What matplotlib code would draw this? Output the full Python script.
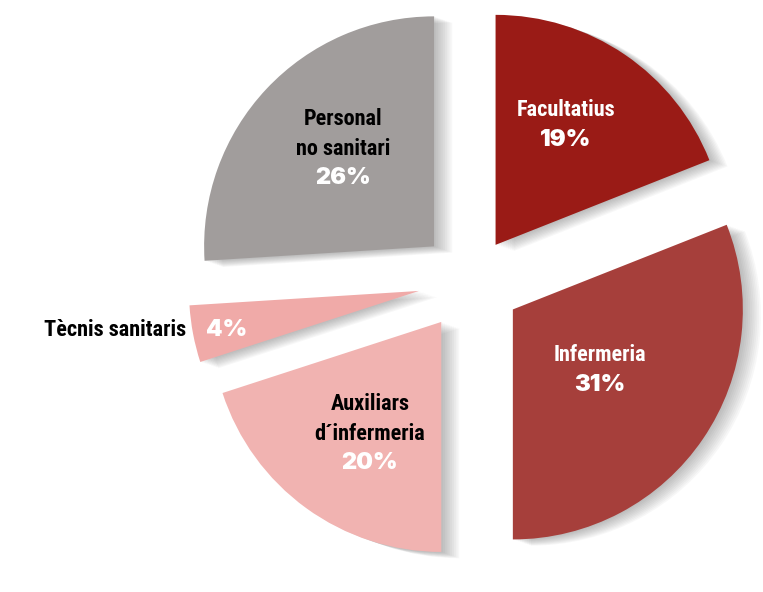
import matplotlib
matplotlib.use("Agg")
import matplotlib.pyplot as plt
import matplotlib.patheffects as pe

categories = ["Facultatius", "Infermeria", "Auxiliars\nd´infermeria", "Tècnis sanitaris", "Personal\nno sanitari"]
values = [19, 31, 20, 4, 26]
pct_labels = ["19%", "31%", "20%", "4%", "26%"]
colors = ["#9A1B16", "#A63F3B", "#F1B3B1", "#F0AAA8", "#A19D9C"]
explode_frac = [0.19, 0.22, 0.22, 0.23, 0.22]

W, H = 763, 592
fig = plt.figure(figsize=(W / 100, H / 100), dpi=100)
ax = fig.add_axes([0, 0, 1, 1])

cx, cy, R = 471, H - 281, 230
wedges, _ = ax.pie(values, colors=colors, explode=[e * R for e in explode_frac],
                   startangle=90, counterclock=False, center=(cx, cy), radius=R,
                   wedgeprops=dict(linewidth=0))
ax.set_xlim(0, W)
ax.set_ylim(0, H)
ax.set_aspect("equal")
ax.axis("off")

shadow = []
for k in range(1, 11):
    shadow.append(pe.SimplePatchShadow(offset=(k * 1.3, -k * 0.45),
                                       shadow_rgbFace="#555555", alpha=0.045))
for w in wedges:
    w.set_path_effects(shadow + [pe.Normal()])

lab_font = ["Roboto Condensed", "DejaVu Sans"]
pct_font = ["Inter", "DejaVu Sans"]
lab_kw = dict(ha="center", va="center", fontsize=16, family=lab_font, fontweight="bold")
pct_kw = dict(ha="center", va="center", fontsize=17, family=pct_font, fontweight=900, color="white")

def py(y):
    return H - y

# Facultatius
ax.text(566, py(110), categories[0], color="white", **lab_kw)
ax.text(566, py(140), pct_labels[0], **pct_kw)
# Infermeria
ax.text(600, py(355), categories[1], color="white", **lab_kw)
ax.text(600, py(385), pct_labels[1], **pct_kw)
# Auxiliars
ax.text(370, py(419), categories[2], color="black", linespacing=1.45, **lab_kw)
ax.text(370, py(463), pct_labels[2], **pct_kw)
# Tècnis
kw = dict(lab_kw); kw["ha"] = "right"
ax.text(186, py(330), categories[3], color="black", **kw)
ax.text(227, py(330), pct_labels[3], **pct_kw)
# Personal
ax.text(343, py(134), categories[4], color="black", linespacing=1.45, **lab_kw)
ax.text(343, py(178), pct_labels[4], **pct_kw)

fig.savefig("out.png", dpi=100, facecolor="white")
